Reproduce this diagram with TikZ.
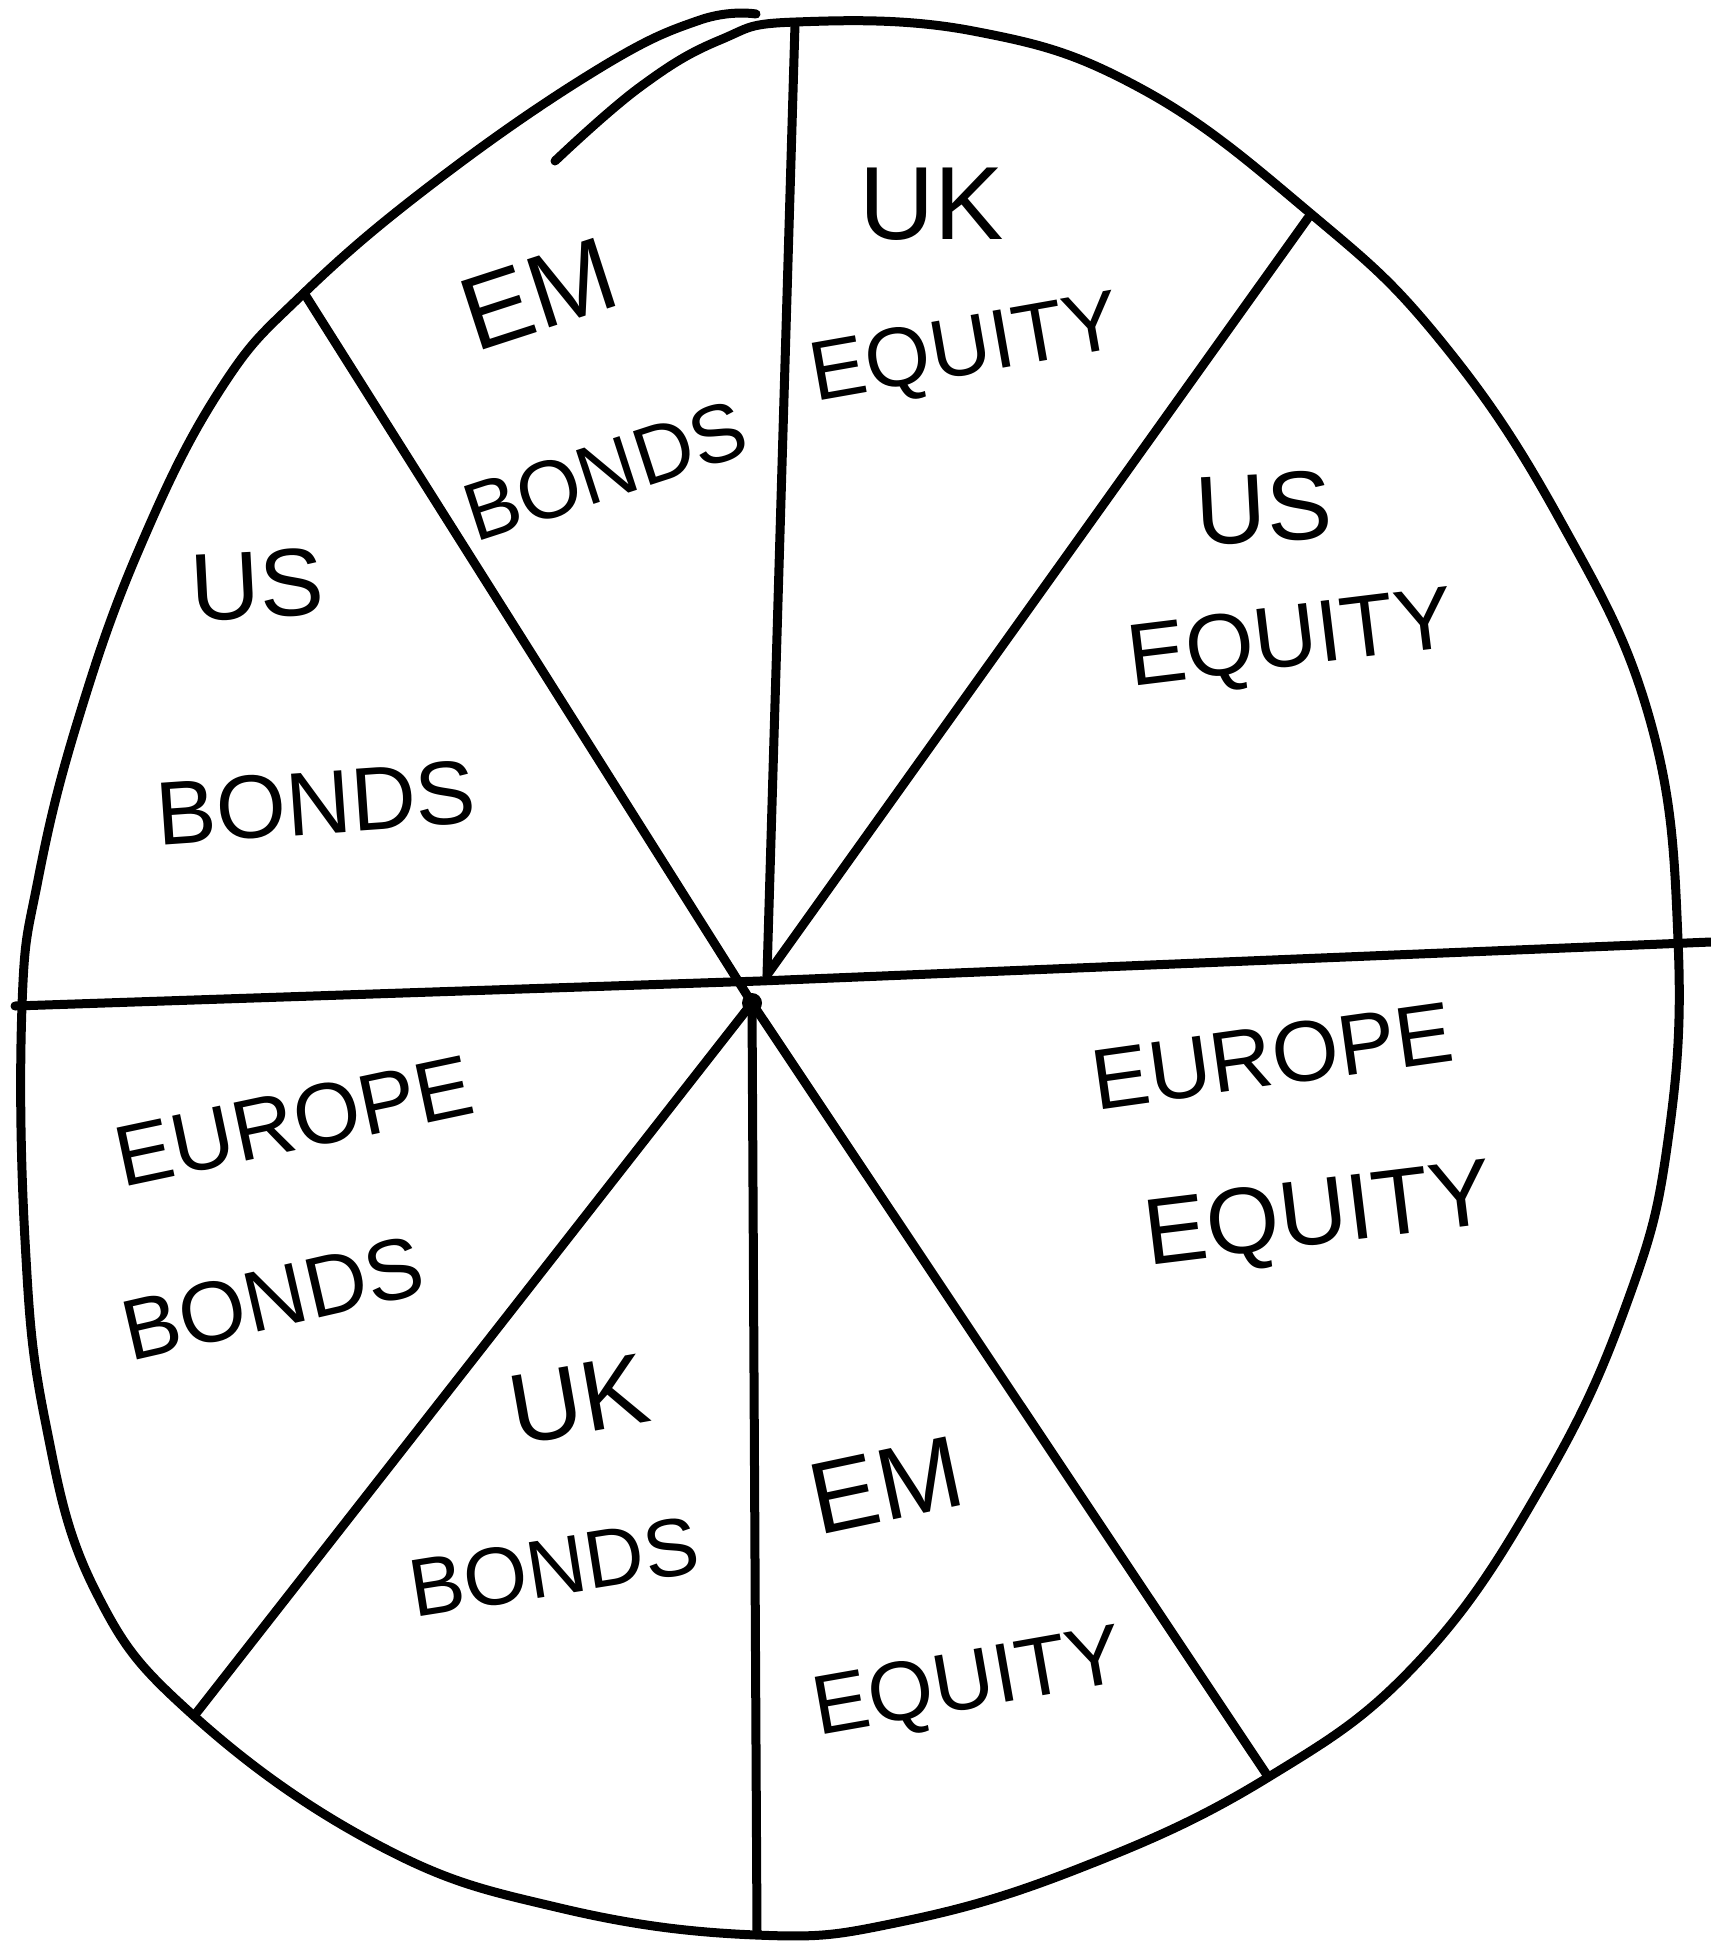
\documentclass[tikz,border=0pt]{standalone}
\usepackage{fontspec}
\setmainfont{Liberation Sans}
\begin{document}
\begin{tikzpicture}[x=0.5pt,y=-0.5pt,
  ink/.style={line width=4.5pt,line cap=round,line join=round},
  lbl/.style={font=\fontsize{#1}{#1}\selectfont,inner sep=0pt}]
\useasboundingbox (0,0) rectangle (1711,1943);
% outline (one stroke, overlapping at the top)
\draw[ink] plot[smooth,tension=0.7] coordinates {(555,161) (640,87) (720,40) (796,22) (973,31) (1140,88) (1310,213) (1440,340) (1560,520) (1650,720) (1678,940) (1668,1140) (1628,1300) (1545,1480) (1420,1660) (1267,1778) (1080,1868) (900,1922) (756,1935) (560,1908) (380,1846) (194,1716) (95,1590) (45,1420) (25,1240) (22,1006) (38,880) (78,720) (140,547) (220,390) (304,293) (440,178) (600,68) (700,20) (756,14)};
% spokes
\coordinate (cu) at (767,975);
\coordinate (cl) at (752,1003);
\coordinate (cm) at (760,981);
\coordinate (t) at (795,24);
\coordinate (ur) at (1308,218);
\coordinate (r) at (1711,942);
\coordinate (lr) at (1267,1775);
\coordinate (b) at (757,1932);
\coordinate (ll) at (194,1716);
\coordinate (l) at (15,1006);
\coordinate (ul) at (304,293);
\draw[ink] (cu) -- (t);
\draw[ink] (cu) -- (ur);
\draw[ink] (l) -- (cm) -- (r);
\draw[ink] (cl) -- (ul);
\draw[ink] (cl) -- (ll);
\draw[ink] (cl) -- (b);
\draw[ink] (cl) -- (lr);
\fill (cl) circle (10);
% labels
\node[lbl=52] (n1) at (932,204) {UK};
\node[lbl=42,rotate=10] (n2) at (966,353) {EQUITY};
\node[lbl=52,rotate=18] (n3) at (539,294) {EM};
\node[lbl=41,rotate=18] (n4) at (605,471) {BONDS};
\node[lbl=49,rotate=3] (n5) at (1264,508) {US};
\node[lbl=44,rotate=7] (n6) at (1291,644) {EQUITY};
\node[lbl=48,rotate=3] (n7) at (257,585) {US};
\node[lbl=45,rotate=4] (n8) at (316,803) {BONDS};
\node[lbl=43,rotate=12] (n9) at (294,1121) {EUROPE};
\node[lbl=43,rotate=13] (n10) at (273,1298) {BONDS};
\node[lbl=43,rotate=8] (n11) at (1272,1056) {EUROPE};
\node[lbl=47,rotate=7] (n12) at (1319,1220) {EQUITY};
\node[lbl=50,rotate=10] (n13) at (579,1400) {UK};
\node[lbl=41,rotate=9] (n14) at (554,1567) {BONDS};
\node[lbl=51,rotate=12] (n15) at (886,1485) {EM};
\node[lbl=42,rotate=10] (n16) at (969,1687) {EQUITY};
\end{tikzpicture}
\end{document}
